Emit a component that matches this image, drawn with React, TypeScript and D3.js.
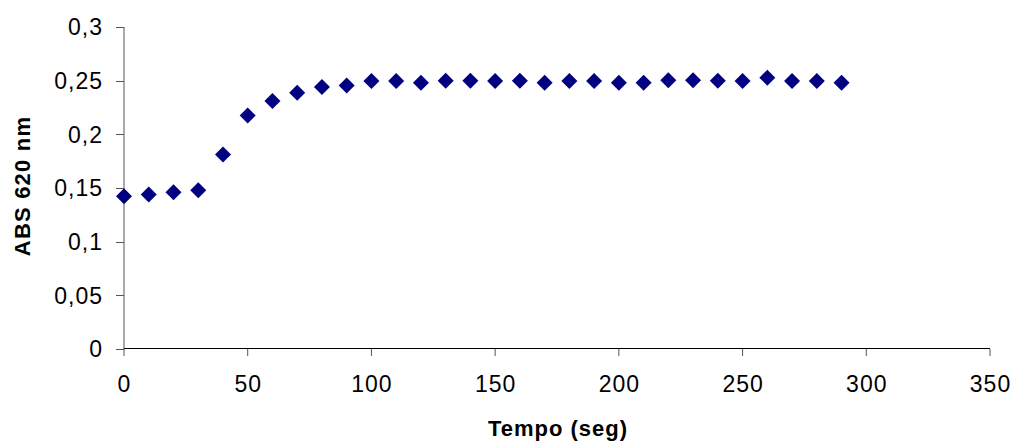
import React from "react";
import * as d3 from "d3";

const times = [0, 10, 20, 30, 40, 50, 60, 70, 80, 90, 100, 110, 120, 130, 140, 150, 160, 170, 180, 190, 200, 210, 220, 230, 240, 250, 260, 270, 280, 290];
const absValues = [0.1423, 0.1439, 0.1461, 0.148, 0.1812, 0.2176, 0.231, 0.2388, 0.244, 0.2456, 0.2497, 0.2497, 0.2481, 0.25, 0.25, 0.2497, 0.25, 0.248, 0.2497, 0.2497, 0.248, 0.248, 0.2503, 0.2503, 0.25, 0.2497, 0.2528, 0.2497, 0.2497, 0.248];
const xTicks = [0, 50, 100, 150, 200, 250, 300, 350];
const yTicks = [0, 0.05, 0.1, 0.15, 0.2, 0.25, 0.3];
const xTitle = "Tempo (seg)";
const yTitle = "ABS 620 nm";

const W = 1015;
const H = 444;
const left = 124;
const right = 990;
const top = 27;
const bottom = 349;

export default function App() {
  const x = d3.scaleLinear().domain([0, 350]).range([left, right]);
  const y = d3.scaleLinear().domain([0, 0.3]).range([bottom, top]);
  const fmt = (v: number) => String(+v.toFixed(2)).replace(".", ",");
  const diamond = d3.symbol().type(d3.symbolSquare).size(128)();
  const font = "'Liberation Sans', Arial, sans-serif";
  return (
    <svg width={W} height={H} style={{ position: "absolute", left: 0, top: 0, background: "#fff" }} fontFamily={font}>
      {/* y axis */}
      <line x1={left} x2={left} y1={top} y2={bottom} stroke="#555" strokeWidth={1} />
      {yTicks.map((t) => (
        <g key={"y" + t}>
          <line x1={left - 8} x2={left} y1={Math.round(y(t)) + 0.5} y2={Math.round(y(t)) + 0.5} stroke="#555" />
          <text x={103} y={y(t)} dy="0.36em" textAnchor="end" fontSize={23} letterSpacing={1} fill="#000">
            {fmt(t)}
          </text>
        </g>
      ))}
      {/* x axis */}
      <line x1={left} x2={right} y1={bottom - 0.5} y2={bottom - 0.5} stroke="#000" strokeWidth={1} />
      {xTicks.map((t) => (
        <g key={"x" + t}>
          <line x1={x(t)} x2={x(t)} y1={bottom} y2={bottom + 7} stroke="#555" />
          <text x={x(t) + 0.5} y={392} textAnchor="middle" fontSize={23} letterSpacing={1} fill="#000">
            {t}
          </text>
        </g>
      ))}
      {/* points */}
      {times.map((t, i) => (
        <path
          key={"p" + t}
          d={diamond!}
          transform={`translate(${x(t)},${y(absValues[i])}) rotate(45)`}
          fill="#000080"
        />
      ))}
      {/* titles */}
      <text x={558} y={436} textAnchor="middle" fontSize={22} fontWeight="bold" letterSpacing={1} fill="#000">
        {xTitle}
      </text>
      <text
        transform="translate(30,186) rotate(-90)"
        textAnchor="middle"
        fontSize={22}
        fontWeight="bold"
        letterSpacing={1.2}
        fill="#000"
      >
        {yTitle}
      </text>
    </svg>
  );
}
